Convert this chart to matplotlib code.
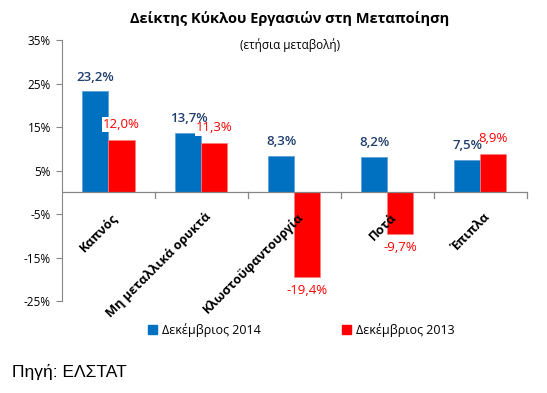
import matplotlib.pyplot as plt
import numpy as np
from matplotlib.patches import Patch

categories = ["Καπνός", "Μη μεταλλικά ορυκτά", "Κλωστοϋφαντουργία", "Ποτά", "Έπιπλα"]
dec_2014 = [23.2, 13.7, 8.3, 8.2, 7.5]
dec_2013 = [12.0, 11.3, -19.4, -9.7, 8.9]
yticks = [35, 25, 15, 5, -5, -15, -25]

plt.rcParams['font.family'] = ['Open Sans', 'DejaVu Sans']

blue = "#0070C0"
red = "#FF0000"
blue_txt = "#1F3E6E"

fig = plt.figure(figsize=(5.47, 3.93), dpi=100)
ax = fig.add_axes([0.1133, 0.234, 0.85, 0.664])

x = np.arange(len(categories))
w = 0.28
ax.bar(x - w / 2, dec_2014, w, color=blue, edgecolor="#5B9BD5", linewidth=0.5, zorder=2)
ax.bar(x + w / 2, dec_2013, w, color=red, edgecolor="#FF7F7F", linewidth=0.5, zorder=2)

def fmt(v):
    return f"{v:.1f}%".replace(".", ",")

for xi, v in zip(x, dec_2014):
    ax.text(xi - w / 2, v + 1.8, fmt(v), ha="center", va="bottom",
            color=blue_txt, fontsize=9.5, fontweight="semibold", zorder=6)
for xi, v in zip(x, dec_2013):
    if v >= 0:
        ax.text(xi + w / 2, v + 2.0, fmt(v), ha="center", va="bottom",
                color=red, fontsize=9.5, zorder=4,
                bbox=dict(facecolor="white", edgecolor="none", pad=0.8))
    else:
        ax.text(xi + w / 2, v - 1.6, fmt(v), ha="center", va="top",
                color=red, fontsize=9.5, zorder=4)

# category labels just below the zero line
for xi, c in zip(x, categories):
    ax.text(xi + 0.03, -4.2, c, rotation=45, rotation_mode="anchor",
            ha="right", va="top", fontsize=9.2, fontweight="bold", zorder=5)

ax.set_xlim(-0.5, len(categories) - 0.5)
ax.set_ylim(-25, 35)
ax.set_yticks(yticks)
ax.set_yticklabels([f"{t}%" for t in yticks], fontsize=8.5)
ax.set_xticks([])

for s in ["top", "right", "bottom"]:
    ax.spines[s].set_visible(False)
ax.spines["left"].set_color("#868686")
ax.tick_params(axis="y", color="#868686", length=4, pad=4)
ax.axhline(0, color="#868686", linewidth=0.9, zorder=3)
for b in np.arange(0.5, len(categories) - 0.5 + 0.01, 1.0):
    ax.plot([b, b], [0, -1.2], color="#868686", linewidth=0.9, clip_on=False)

fig.text(0.53, 0.953, "Δείκτης Κύκλου Εργασιών στη Μεταποίηση",
         ha="center", va="center", fontsize=10.5, fontweight="bold")
fig.text(0.53, 0.886, "(ετήσια μεταβολή)", ha="center", va="center", fontsize=8.5)

handles = [Patch(color=blue), Patch(color=red)]
fig.legend(handles, ["Δεκέμβριος 2014", "Δεκέμβριος 2013"], loc="center",
           bbox_to_anchor=(0.551, 0.160), ncol=2, frameon=False, fontsize=9,
           handlelength=0.7, handleheight=0.7, handletextpad=0.4, columnspacing=6.5)

fig.text(0.022, 0.053, "Πηγή: ΕΛΣΤΑΤ", ha="left", va="center", fontsize=12.5,
         family=["Liberation Sans", "DejaVu Sans"])

fig.savefig("out.png", dpi=100)
